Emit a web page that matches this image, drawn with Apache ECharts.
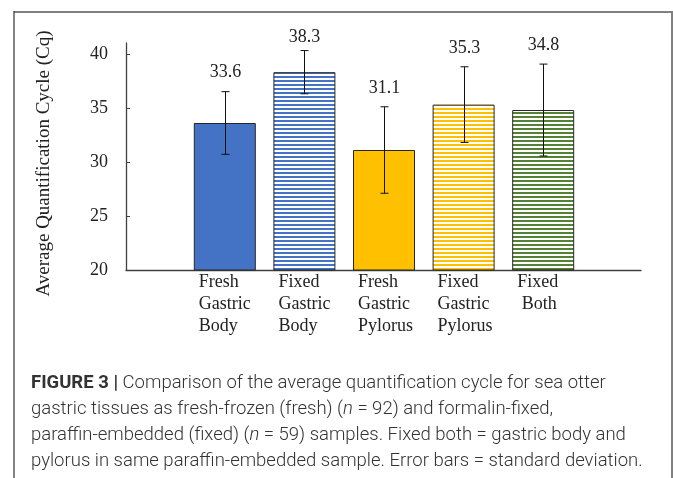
<!DOCTYPE html>
<html>
<head>
<meta charset="utf-8">
<script src="https://cdn.jsdelivr.net/npm/echarts@6/dist/echarts.min.js"></script>
<style>html,body{margin:0;padding:0;background:#fff}#c{width:673px;height:478px}</style>
</head>
<body>
<div id="c"></div>
<script>
const categories = ['Fresh\nGastric\nBody', 'Fixed\nGastric\nBody', 'Fresh\nGastric\nPylorus', 'Fixed\nGastric\nPylorus', 'Fixed\n Both'];
const means = [33.6, 38.3, 31.1, 35.3, 34.8];
const sds = [2.9, 2.0, 4.0, 3.5, 4.25];
const yTicks = [20, 25, 30, 35, 40];
const yTitle = 'Average Quantification Cycle (Cq)';
const captionLines = [
  '{b|FIGURE 3 |} Comparison of the average quantification cycle for sea otter',
  'gastric tissues as fresh-frozen (fresh) ({i|n} = 92) and formalin-fixed,',
  'paraffin-embedded (fixed) ({i|n} = 59) samples. Fixed both = gastric body and',
  'pylorus in same paraffin-embedded sample. Error bars = standard deviation.'
];

const BLUE = '#4472C4', GOLD = '#FFC000', GREEN = '#548235';
function stripes(color) {
  const c = document.createElement('canvas');
  c.width = 4; c.height = 4;
  const ctx = c.getContext('2d');
  ctx.fillStyle = '#ffffff'; ctx.fillRect(0, 0, 4, 4);
  ctx.fillStyle = color; ctx.fillRect(0, 0, 4, 2);
  return { image: c, repeat: 'repeat' };
}
const fills = [BLUE, stripes(BLUE), GOLD, stripes(GOLD), stripes(GREEN)];
const SERIF = '"Liberation Serif", "Times New Roman", serif';
const SANS = 'Roboto, "Liberation Sans", sans-serif';
const CAP_FS = 18.5;

const chart = echarts.init(document.getElementById('c'), null, { renderer: 'canvas' });
const Y_MIN = 20, Y_MAX = 41;

const graphics = [
  { type: 'line', shape: { x1: 14, y1: 12, x2: 672, y2: 12 }, style: { stroke: '#808080', lineWidth: 2 } },
  { type: 'line', shape: { x1: 14, y1: 11, x2: 14, y2: 478 }, style: { stroke: '#333', lineWidth: 1.2 } },
  { type: 'line', shape: { x1: 672, y1: 11, x2: 672, y2: 478 }, style: { stroke: '#808080', lineWidth: 2 } }
];
const capY = [385, 411, 437, 463];
captionLines.forEach((t, k) => {
  graphics.push({
    type: 'text', left: 31, top: capY[k] - 11,
    style: {
      text: t, fontFamily: SANS, fontSize: CAP_FS, fontWeight: 300, fill: '#333',
      rich: {
        b: { fontFamily: SANS, fontSize: CAP_FS, fontWeight: 'bold', fill: '#333' },
        i: { fontFamily: SANS, fontSize: CAP_FS, fontWeight: 300, fontStyle: 'italic', fill: '#333' }
      }
    }
  });
});

chart.setOption({
  animation: false,
  backgroundColor: '#fff',
  grid: [
    { left: 126, right: 32, top: 43, bottom: 208 },
    { left: 185, right: 90, top: 43, bottom: 208 }
  ],
  xAxis: [
    { gridIndex: 0, type: 'value', min: 0, max: 1, axisLine: { show: true, lineStyle: { color: '#404040', width: 1.3 } },
      axisTick: { show: false }, axisLabel: { show: false }, splitLine: { show: false } },
    { gridIndex: 1, type: 'category', data: categories,
      axisLine: { show: false }, axisTick: { show: false },
      axisLabel: {
        margin: 1, interval: 0, color: '#222', fontFamily: SERIF, fontSize: 18, lineHeight: 22,
        formatter: v => v.split('\n').map(s => '{a|' + s + '}').join('\n'),
        rich: { a: { width: 52, align: 'left', fontFamily: SERIF, fontSize: 18, lineHeight: 22, color: '#222' } }
      } }
  ],
  yAxis: [
    { gridIndex: 0, type: 'value', min: Y_MIN, max: Y_MAX, interval: 5,
      name: yTitle, nameLocation: 'middle', nameRotate: 90, nameGap: 72,
      nameTextStyle: { fontFamily: SERIF, fontSize: 19, color: '#222', padding: [0, 14, 0, 0] },
      axisLine: { show: true, lineStyle: { color: '#404040', width: 1.3 } },
      axisTick: { show: true, inside: true, length: 4, customValues: yTicks, lineStyle: { color: '#404040' } },
      axisLabel: { margin: 18, customValues: yTicks, color: '#222', fontFamily: SERIF, fontSize: 18 },
      splitLine: { show: false } },
    { gridIndex: 1, type: 'value', min: Y_MIN, max: Y_MAX, show: false, splitLine: { show: false } }
  ],
  series: [
    { type: 'bar', xAxisIndex: 1, yAxisIndex: 1, barWidth: 62,
      data: means.map((m, i) => ({ value: m, itemStyle: { color: fills[i] } })),
      itemStyle: { borderColor: '#262626', borderWidth: 1 } },
    { type: 'custom', xAxisIndex: 1, yAxisIndex: 1,
      data: means.map((m, i) => [i, m, sds[i]]),
      renderItem: (params, api) => {
        const i = api.value(0), m = api.value(1), s = api.value(2);
        const top = api.coord([i, m + s]);
        const bot = api.coord([i, m - s]);
        const x = Math.round(top[0]) + 0.5;
        const st = { stroke: '#111', lineWidth: 1 };
        // label sits above the error bar, kept inside the chart area (as Excel clamps it)
        const ly = Math.max(top[1] - 19, 37.5);
        return { type: 'group', children: [
          { type: 'line', shape: { x1: x, y1: top[1], x2: x, y2: bot[1] }, style: st },
          { type: 'line', shape: { x1: x - 4, y1: top[1], x2: x + 4, y2: top[1] }, style: st },
          { type: 'line', shape: { x1: x - 4, y1: bot[1], x2: x + 4, y2: bot[1] }, style: st },
          { type: 'text', x: x, y: ly, style: { text: m.toFixed(1), fontFamily: SERIF, fontSize: 18, fill: '#222', align: 'center', verticalAlign: 'middle' } }
        ] };
      }, z: 5 }
  ],
  graphic: graphics
});
</script>
</body>
</html>
